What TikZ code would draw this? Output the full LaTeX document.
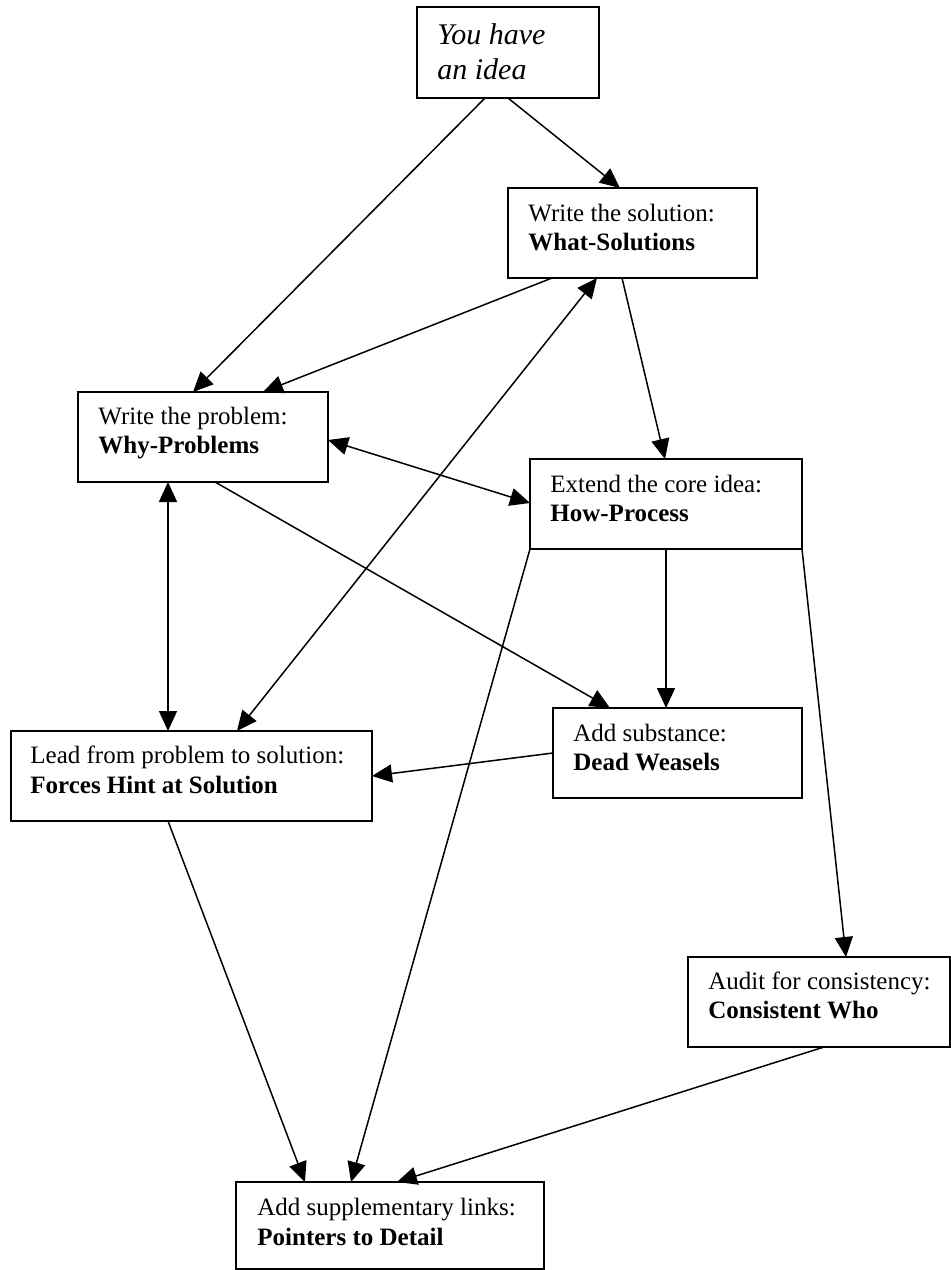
\documentclass[tikz,border=0pt]{standalone}
\usepackage{fontspec}
\setmainfont{Liberation Serif}
\usetikzlibrary{arrows.meta,calc}
\begin{document}
\begin{tikzpicture}[x=0.5pt,y=-0.5pt,
  box/.style={draw, line width=1pt, anchor=north west, inner sep=0pt, outer sep=0pt},
  txt/.style={anchor=base west, inner sep=0pt, font=\fontsize{12.5}{14.5}\selectfont},
  itxt/.style={anchor=base west, inner sep=0pt, font=\fontsize{15}{17}\selectfont\itshape},
  arr/.style={-{Triangle[length=10pt,width=9pt]}, line width=0.75pt},
  darr/.style={{Triangle[length=10pt,width=9pt]}-{Triangle[length=10pt,width=9pt]}, line width=0.75pt}]
\useasboundingbox (0,0) rectangle (951,1270);
% boxes
\node[box, minimum width=91pt, minimum height=45.5pt] (b1) at (417,7) {};
\node[box, minimum width=124.5pt, minimum height=45pt] (b2) at (508,188) {};
\node[box, minimum width=125pt, minimum height=45pt] (why) at (78,392) {};
\node[box, minimum width=136pt, minimum height=45pt] (how) at (530,459) {};
\node[box, minimum width=124.5pt, minimum height=45pt] (dw) at (553,708) {};
\node[box, minimum width=180.5pt, minimum height=45pt] (forces) at (11,731) {};
\node[box, minimum width=131pt, minimum height=45pt] (cw) at (688,957) {};
\node[box, minimum width=154pt, minimum height=43.5pt] (ptr) at (236,1182) {};
% texts
\node[itxt] (b1a) at ($(b1.north west)+(20,37)$) {You have};
\node[itxt] (b1b) at ($(b1.north west)+(20,72)$) {an idea};
\node[txt] (b2a) at ($(b2.north west)+(20,33)$) {Write the solution:};
\node[txt] (b2b) at ($(b2.north west)+(20,62)$) {\textbf{What-Solutions}};
\node[txt] (whya) at ($(why.north west)+(20,32)$) {Write the problem:};
\node[txt] (whyb) at ($(why.north west)+(20,61)$) {\textbf{Why-Problems}};
\node[txt] (howa) at ($(how.north west)+(20,33)$) {Extend the core idea:};
\node[txt] (howb) at ($(how.north west)+(20,62)$) {\textbf{How-Process}};
\node[txt] (dwa) at ($(dw.north west)+(20,33)$) {Add substance:};
\node[txt] (dwb) at ($(dw.north west)+(20,62)$) {\textbf{Dead Weasels}};
\node[txt] (fa) at ($(forces.north west)+(19,32)$) {Lead from problem to solution:};
\node[txt] (fb) at ($(forces.north west)+(19,62)$) {\textbf{Forces Hint at Solution}};
\node[txt] (cwa) at ($(cw.north west)+(20,32)$) {Audit for consistency:};
\node[txt] (cwb) at ($(cw.north west)+(20,61)$) {\textbf{Consistent Who}};
\node[txt] (pa) at ($(ptr.north west)+(21,33)$) {Add supplementary links:};
\node[txt] (pb) at ($(ptr.north west)+(21,63)$) {\textbf{Pointers to Detail}};
% connectors
\draw[arr] ($(b1.south west)+(68,0)$) -- ($(why.north west)+(115,0)$);
\draw[arr] ($(b1.south west)+(91,0)$) -- ($(b2.north west)+(112,0)$);
\draw[arr] ($(b2.south west)+(44,0)$) -- ($(why.north west)+(185,0)$);
\draw[darr] ($(forces.north west)+(226,0)$) -- ($(b2.south west)+(89,0)$);
\draw[arr] ($(b2.south west)+(114,0)$) -- ($(how.north west)+(135,0)$);
\draw[darr] ($(why.north east)+(0,48)$) -- ($(how.north west)+(0,44)$);
\draw[darr] ($(why.south west)+(90,0)$) -- ($(forces.north west)+(157,0)$);
\draw[arr] ($(why.south west)+(137,0)$) -- ($(dw.north west)+(57,0)$);
\draw[arr] ($(how.south west)+(136,0)$) -- ($(dw.north west)+(113,0)$);
\draw[arr] ($(dw.north west)+(0,45)$) -- ($(forces.north east)+(0,45)$);
\draw[arr] (how.south west) -- ($(ptr.north west)+(115,0)$);
\draw[arr] (how.south east) -- ($(cw.north west)+(158,0)$);
\draw[arr] ($(forces.south west)+(157,0)$) -- ($(ptr.north west)+(69,0)$);
\draw[arr] ($(cw.south west)+(136,0)$) -- ($(ptr.north west)+(161,0)$);
\end{tikzpicture}
\end{document}
